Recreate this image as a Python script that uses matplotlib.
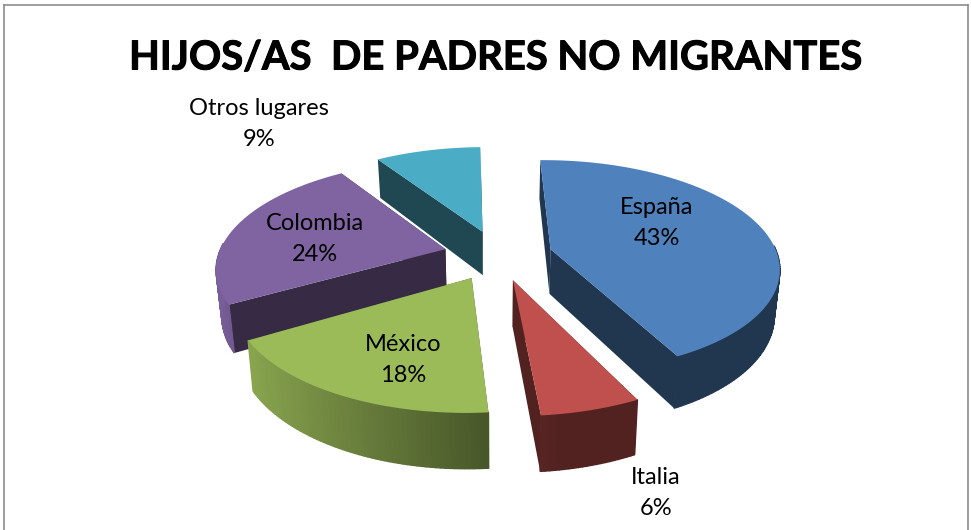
import numpy as np
import matplotlib.pyplot as plt
import matplotlib.patheffects as pe
from matplotlib.colors import to_rgb

categorias = ["España", "Italia", "México", "Colombia", "Otros lugares"]
valores = [43, 6, 18, 24, 9]
colores = ["#4F81BD", "#C0504D", "#9BBB59", "#8064A2", "#4BACC6"]
titulo = "HIJOS/AS  DE PADRES NO MIGRANTES"

# proyeccion del disco (en pixeles de la imagen)
CX, CY = 498, 255
RX, RY = 227, 105
K = 0.16
ALTO = 45
EXPLOTA = 0.24
INICIO = -0.9


def proyectar(u, v, z=0):
    s = 1 / (1 - K * v)
    return CX + RX * u * s * (1 - 0.02 * z), CY + RY * v * s + z * ALTO * s


def oscurecer(color, f):
    return tuple(c * f for c in to_rgb(color))


def dibujar_rebanada(ax, ang0, ang1, color):
    medio = np.radians((ang0 + ang1) / 2)
    du, dv = EXPLOTA * np.sin(medio), -EXPLOTA * np.cos(medio)
    angs = np.radians(np.arange(ang0, ang1 + 0.01, 1.0))
    us = du + np.sin(angs)
    vs = dv - np.cos(angs)

    # paredes radiales
    for ue, ve in [(us[0], vs[0]), (us[-1], vs[-1])]:
        n = [proyectar(du, dv), proyectar(ue, ve), proyectar(ue, ve, 1), proyectar(du, dv, 1)]
        ax.fill(*zip(*n), color=oscurecer(color, 0.42), lw=0, zorder=2)

    # pared exterior, mas clara a la izquierda
    for i in range(len(angs) - 1):
        if np.cos(angs[i]) > 0.05:
            continue
        f = max(0.42, 0.95 - 0.45 * (np.sin(angs[i]) + 1))
        q = [proyectar(us[i], vs[i]), proyectar(us[i + 1], vs[i + 1]),
             proyectar(us[i + 1], vs[i + 1], 1), proyectar(us[i], vs[i], 1)]
        ax.fill(*zip(*q), color=oscurecer(color, f), lw=1.0, zorder=2)

    # cara superior
    px, py = proyectar(np.r_[du, us], np.r_[dv, vs])
    ax.fill(px, py, color=color, lw=0, zorder=3)


fig = plt.figure(figsize=(9.71, 5.30), dpi=100)
ax = fig.add_axes([0, 0, 1, 1])
ax.set_xlim(0, 971)
ax.set_ylim(530, 0)
ax.axis("off")
plt.rcParams['font.family'] = ['Lato', 'DejaVu Sans']

total = sum(valores)
cortes = INICIO + np.r_[0, np.cumsum(valores)] / total * 360

# de atras hacia adelante
for i in [4, 3, 0, 2, 1]:
    dibujar_rebanada(ax, cortes[i], cortes[i + 1], colores[i])

# marco
ax.plot([4, 4], [530, 5], color="#8C8C8C", lw=1.2)
ax.plot([4, 968], [5, 5], color="#8C8C8C", lw=1.2)
ax.plot([968, 968], [5, 530], color="#8C8C8C", lw=1.2)

t = ax.text(496, 58, titulo, ha="center", va="center", fontsize=28.8, fontweight="bold", color="black")
t.set_path_effects([pe.withStroke(linewidth=0.7, foreground="black")])

pos_etiquetas = [(657, 223), (656, 493), (403, 360), (315, 239), (259, 124)]
for nombre, valor, (x, y) in zip(categorias, valores, pos_etiquetas):
    ax.text(x, y, f"{nombre}\n{valor}%", ha="center", va="center", fontsize=17, linespacing=1.55,
            color="black", zorder=5)

fig.savefig("out.png", dpi=100)
